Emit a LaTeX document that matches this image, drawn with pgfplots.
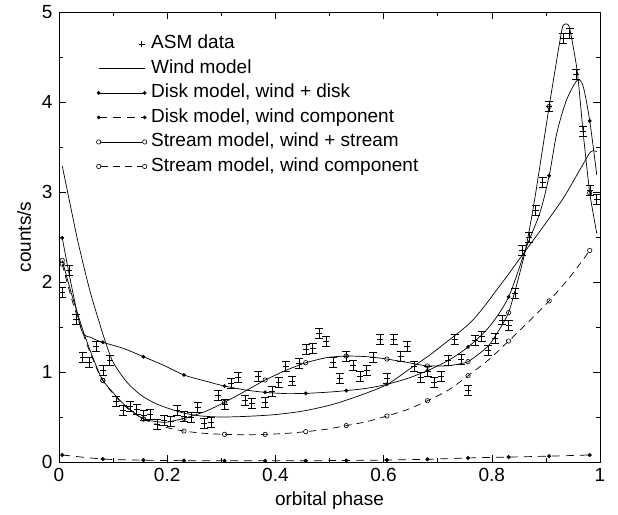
\documentclass[border=0pt]{standalone}
\usepackage{fontspec}
\setmainfont{Liberation Sans}
\usepackage{pgfplots}
\usepackage{pgfplotstable}
\pgfplotsset{compat=1.18}

\pgfplotstableread{
x y
0.00625 1.89
0.01875 2.13
0.03125 1.59
0.04375 1.16
0.05625 1.11
0.06875 1.29
0.08125 1.02
0.09375 1.13
0.10625 0.67
0.11875 0.57
0.13125 0.62
0.14375 0.585
0.15625 0.52
0.16875 0.533
0.18125 0.414
0.19375 0.467
0.20625 0.448
0.21875 0.578
0.23125 0.51
0.24375 0.493
0.25625 0.607
0.26875 0.43
0.28125 0.44
0.29375 0.744
0.30625 0.644
0.31875 0.874
0.33125 0.937
0.34375 0.681
0.35625 0.652
0.36875 0.948
0.38125 0.663
0.39375 0.781
0.40625 0.885
0.41875 1.067
0.43125 0.902
0.44375 1.093
0.45625 1.256
0.46875 1.263
0.48125 1.43
0.49375 1.344
0.50625 1.107
0.51875 0.93
0.53125 1.178
0.54375 1.078
0.55625 0.956
0.56875 1.015
0.58125 1.163
0.59375 1.363
0.60625 0.93
0.61875 1.363
0.63125 1.178
0.64375 1.281
0.65625 1.059
0.66875 0.941
0.68125 1.004
0.69375 0.881
0.70625 0.948
0.71875 1.133
0.73125 1.36
0.74375 1.141
0.75625 0.796
0.76875 1.348
0.78125 1.396
0.79375 1.237
0.80625 1.374
0.81875 1.58
0.83125 1.518
0.84375 1.878
0.85625 2.356
0.86875 2.493
0.88125 2.8
0.89375 3.104
0.90625 3.956
0.93125 4.707
0.94375 4.763
0.95625 4.311
0.96875 3.678
0.98125 3.022
0.99375 2.922
}\asmdata

\pgfplotstableread{
x y
0.006 3.29
0.02 2.88
0.035 2.45
0.05 2.07
0.06 1.84
0.073 1.58
0.085 1.35
0.1 1.11
0.125 0.89
0.15 0.75
0.175 0.66
0.2 0.60
0.23 0.545
0.26 0.513
0.3 0.50
0.35 0.508
0.4 0.527
0.45 0.565
0.5 0.63
0.532 0.689
0.57 0.77
0.607 0.863
0.645 1.02
0.681 1.17
0.705 1.28
0.757 1.53
0.785 1.72
0.81 1.92
0.83 2.08
0.861 2.337
0.895 2.615
0.932 2.93
0.966 3.28
0.983 3.448
0.994 3.448
}\windline

\pgfplotstableread{
x y
0.006 2.49
0.024 1.93
0.042 1.46
0.06 1.38
0.081 1.33
0.12 1.26
0.156 1.17
0.195 1.07
0.231 0.967
0.27 0.90
0.306 0.844
0.345 0.80
0.381 0.774
0.42 0.76
0.456 0.763
0.495 0.775
0.531 0.793
0.57 0.82
0.606 0.863
0.645 0.93
0.681 1.015
0.72 1.13
0.756 1.278
0.795 1.50
0.831 1.833
0.864 2.39
0.889 2.77
0.906 3.18
0.92 3.65
0.938 4.02
0.958 4.24
0.969 4.17
0.981 3.79
0.994 3.19
}\diskline

\pgfplotstableread{
x y
0.006 2.49
0.081 1.33
0.156 1.17
0.231 0.967
0.306 0.844
0.381 0.774
0.456 0.763
0.531 0.793
0.606 0.863
0.681 1.015
0.756 1.278
0.831 1.833
0.906 3.18
0.981 3.79
}\diskmarks

\pgfplotstableread{
x y
0.006 0.078
0.081 0.033
0.156 0.020
0.231 0.015
0.306 0.013
0.381 0.013
0.456 0.014
0.531 0.017
0.606 0.022
0.681 0.030
0.756 0.045
0.831 0.055
0.906 0.065
0.981 0.078
}\diskwind

\pgfplotstableread{
x y
0.006 2.24
0.024 1.85
0.045 1.45
0.06 1.20
0.081 0.907
0.12 0.64
0.156 0.478
0.195 0.44
0.231 0.485
0.27 0.56
0.306 0.663
0.345 0.79
0.381 0.911
0.42 1.02
0.456 1.103
0.495 1.16
0.531 1.178
0.57 1.17
0.606 1.144
0.645 1.105
0.681 1.067
0.72 1.07
0.756 1.115
0.795 1.30
0.831 1.659
0.861 2.32
0.879 2.91
0.906 3.95
0.919 4.43
0.931 4.84
0.943 4.84
0.958 4.34
0.969 3.65
0.981 2.99
0.994 2.54
}\streamline

\pgfplotstableread{
x y
0.006 2.24
0.081 0.907
0.156 0.478
0.231 0.485
0.306 0.663
0.381 0.911
0.456 1.103
0.531 1.178
0.606 1.144
0.681 1.067
0.756 1.115
0.831 1.659
0.906 3.95
0.981 2.99
}\streammarks

\pgfplotstableread{
x y
0.006 2.20
0.024 1.80
0.045 1.42
0.06 1.18
0.081 0.907
0.12 0.63
0.156 0.478
0.195 0.39
0.231 0.344
0.27 0.318
0.306 0.307
0.345 0.303
0.381 0.307
0.42 0.318
0.456 0.337
0.495 0.365
0.531 0.404
0.57 0.45
0.606 0.511
0.645 0.585
0.681 0.681
0.72 0.80
0.756 0.959
0.795 1.14
0.831 1.344
0.87 1.57
0.906 1.79
0.945 2.06
0.981 2.35
}\streamwindline

\pgfplotstableread{
x y
0.006 2.20
0.081 0.907
0.156 0.478
0.231 0.344
0.306 0.307
0.381 0.307
0.456 0.337
0.531 0.404
0.606 0.511
0.681 0.681
0.756 0.959
0.831 1.344
0.906 1.79
0.981 2.35
}\streamwindmarks

\begin{document}
\fontsize{19bp}{22bp}\selectfont
\begin{tikzpicture}
\begin{axis}[
  scale only axis, width=541bp, height=450bp,
  xmin=0, xmax=1, ymin=0, ymax=5,
  xtick={0,0.2,0.4,0.6,0.8,1},
  xticklabels={0,0.2,0.4,0.6,0.8,1},
  minor xtick={0.1,0.3,0.5,0.7,0.9},
  ytick={0,1,2,3,4,5},
  yticklabels={0,1,2,3,4,5},
  minor ytick={0.5,1.5,2.5,3.5,4.5},
  tick align=inside,
  major tick length=7bp, minor tick length=4.5bp,
  every tick/.style={black, line width=0.6bp},
  axis line style={line width=0.7bp},
  tick label style={font=\fontsize{19bp}{22bp}\selectfont},
  /pgf/number format/assume math mode=true,
  every axis x label/.style={at={([yshift=-39bp]axis description cs:0.5,0)}, anchor=center, font=\fontsize{19bp}{22bp}\selectfont},
  every axis y label/.style={at={([xshift=-35bp]axis description cs:0,0.5)}, anchor=center, rotate=90, font=\fontsize{19bp}{22bp}\selectfont},
  xlabel={orbital phase}, ylabel={counts/s},
  legend cell align=left,
  legend style={at={([xshift=37bp,yshift=-22bp]axis description cs:0,1)}, anchor=north west, draw=none, fill=none,
     font=\fontsize{19bp}{22bp}\selectfont, inner sep=0bp, row sep=5bp,
     nodes={inner sep=1bp, text height=13.5bp, text depth=4bp},
     /tikz/every odd column/.append style={column sep=3bp}},
]
\addlegendimage{legend image code/.code={\draw[black,line width=0.6bp] (43bp,-3bp) -- (43bp,3bp) (40bp,0bp) -- (46bp,0bp);}}
\addlegendentry{ASM data}
\addlegendimage{legend image code/.code={\draw[black,line width=0.7bp] (0bp,0bp) -- (46bp,0bp);}}
\addlegendentry{Wind model}
\addlegendimage{legend image code/.code={\draw[black,line width=0.7bp] (0bp,0bp) -- (46bp,0bp); \fill[black] (0bp,0bp) circle (1.7bp) (46bp,0bp) circle (1.7bp);}}
\addlegendentry{Disk model, wind + disk}
\addlegendimage{legend image code/.code={\draw[black,line width=0.7bp,dash pattern=on 8bp off 6bp] (0bp,0bp) -- (46bp,0bp); \fill[black] (0bp,0bp) circle (1.7bp) (46bp,0bp) circle (1.7bp);}}
\addlegendentry{Disk model, wind component}
\addlegendimage{legend image code/.code={\draw[black,line width=0.7bp] (2.2bp,0bp) -- (43.8bp,0bp); \draw[black,line width=0.6bp] (0bp,0bp) circle (2.2bp) (46bp,0bp) circle (2.2bp);}}
\addlegendentry{Stream model, wind + stream}
\addlegendimage{legend image code/.code={\draw[black,line width=0.7bp,dash pattern=on 7bp off 5bp] (2.2bp,0bp) -- (43.8bp,0bp); \draw[black,line width=0.6bp] (0bp,0bp) circle (2.2bp) (46bp,0bp) circle (2.2bp);}}
\addlegendentry{Stream model, wind component}

% ASM data with error bars
\addplot[forget plot, black, only marks, mark=+, mark size=3bp, mark options={line width=0.6bp},
  error bars/.cd, y dir=both, y fixed=0.055,
  error bar style={line width=0.6bp, black},
  error mark options={black, line width=0.6bp, mark size=4bp, rotate=90}] table {\asmdata};

% Wind model
\addplot[forget plot, black, line width=0.7bp, smooth, no marks] table {\windline};
% Disk model
\addplot[forget plot, black, line width=0.7bp, smooth, no marks] table {\diskline};
\addplot[forget plot, black, only marks, mark=*, mark size=1.7bp] table {\diskmarks};
\addplot[forget plot, black, line width=0.7bp, dash pattern=on 8bp off 6bp, smooth, mark=*, mark size=1.7bp, mark options={solid}] table {\diskwind};
% Stream model
\addplot[forget plot, black, line width=0.7bp, smooth, tension=0.3, no marks] table {\streamline};
\addplot[forget plot, black, only marks, mark=o, mark size=2.2bp, mark options={line width=0.6bp, fill=white}] table {\streammarks};
\addplot[forget plot, black, line width=0.7bp, dash pattern=on 7bp off 5bp, smooth, no marks] table {\streamwindline};
\addplot[forget plot, black, only marks, mark=o, mark size=2.2bp, mark options={line width=0.6bp, fill=white}] table {\streamwindmarks};
\end{axis}
\pgfresetboundingbox
\path[use as bounding box] ([shift={(-59bp,-53bp)}]current axis.south west) rectangle ([shift={(18bp,12bp)}]current axis.north east);
\end{tikzpicture}
\end{document}
